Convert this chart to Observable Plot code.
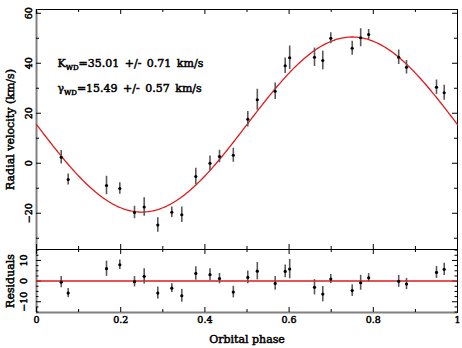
<!DOCTYPE html>
<html>
<head>
<meta charset="utf-8">
<script src="https://cdn.jsdelivr.net/npm/d3@7"></script>
<script src="https://cdn.jsdelivr.net/npm/@observablehq/plot@0.6"></script>
<style>
  html, body { margin: 0; padding: 0; background: #fff; }
  #chart { position: relative; width: 462px; height: 348px; }
  #chart svg { position: absolute; left: 0; display: block; overflow: visible; }
  #chart svg text { stroke: #000; stroke-width: 0.5px; }
  #chart svg text.fit { word-spacing: 2px; }
</style>
</head>
<body>
<div id="chart"></div>
<script>
// White-dwarf radial velocities folded on the orbital phase
const phase = [0.0587, 0.0753, 0.1663, 0.1979, 0.2328, 0.2558, 0.2881, 0.3214, 0.3451, 0.3784,
               0.4121, 0.4347, 0.4675, 0.5019, 0.5245, 0.5670, 0.5907, 0.6014, 0.6603, 0.6800,
               0.6990, 0.7499, 0.7700, 0.7890, 0.8603, 0.8789, 0.9501, 0.9684];
const velocity = [2.4, -6.5, -8.9, -10.1, -19.7, -17.5, -24.7, -19.6, -20.6, -5.3,
                  0.0, 2.7, 3.2, 17.6, 25.4, 28.8, 39.0, 42.2, 42.4, 41.1,
                  50.0, 46.0, 50.2, 51.5, 42.4, 38.4, 30.4, 28.2];
const velocityErr = [2.7, 2.2, 3.7, 2.3, 2.5, 3.7, 2.9, 2.1, 3.1, 3.3,
                     2.9, 2.5, 2.8, 3.1, 4.2, 3.3, 3.1, 4.7, 3.7, 3.7,
                     2.2, 2.8, 3.6, 2.0, 2.9, 2.7, 2.9, 3.0];
const residual = [-0.5, -5.8, 6.0, 7.9, -0.3, 2.3, -5.8, -3.4, -7.1, 3.7,
                  3.1, 1.2, -5.3, 1.8, 4.8, -1.1, 4.7, 5.8, -3.0, -6.3,
                  1.0, -4.6, -0.8, 1.6, -0.1, -1.4, 4.2, 5.7];

// Fitted sine: v = gamma - K sin(2 pi phase)
const K = 35.01, K_err = 0.71;
const gamma = 15.49, gamma_err = 0.57;
const fitLabels = [
  {symbol: "K", sub: "WD", value: K, err: K_err},
  {symbol: "γ", sub: "WD", value: gamma, err: gamma_err}
];

// Tick positions and labels
const phaseMajor = [0, 0.2, 0.4, 0.6, 0.8, 1];
const phaseMinor = [0.1, 0.3, 0.5, 0.7, 0.9];
const phaseTickLabels = ["0", "0.2", "0.4", "0.6", "0.8", "1"];
const velMajor = [-20, 0, 20, 40, 60];
const velMinor = [-30, -10, 10, 30, 50];
const resMajor = [-10, 0, 10];
const resMinor = [-15, -12.5, -7.5, -5, -2.5, 2.5, 5, 7.5, 12.5, 15];

const data = phase.map((p, i) => ({phase: p, v: velocity[i], e: velocityErr[i], r: residual[i]}));
const model = d3.range(0, 1.0001, 0.004).map(p => ({phase: p, v: gamma - K * Math.sin(2 * Math.PI * p)}));

const fmt = d => d < 0 ? "\u2212" + (-d) : String(d);
const style = {fontFamily: "'DejaVu Serif', serif", fontSize: "11px", background: "transparent", overflow: "visible"};
const RED = "#e2191c";
const BAR = "#5a5a5a";
const EDGE = "#808080";
const TICKFONT = 9.5;

const W = 462, mL = 36, mR = 5;
const innerW = W - mL - mR;

// ---------- upper panel: radial velocities ----------
const topH = 249, topMT = 9;
const topInner = topH - topMT;
const upper = Plot.plot({
  width: W, height: topH,
  marginLeft: mL, marginRight: mR, marginTop: topMT, marginBottom: 0,
  x: {domain: [0, 1], axis: null},
  y: {domain: [-34.5, 61.5], axis: null},
  style,
  marks: [
    Plot.frame({stroke: "#000", strokeWidth: 1}),
    Plot.ruleX([0], {stroke: EDGE, strokeWidth: 2}),
    // inward ticks: top and bottom
    Plot.ruleX(phaseMajor, {insetBottom: topInner - 5, stroke: "#000"}),
    Plot.ruleX(phaseMinor, {insetBottom: topInner - 3, stroke: "#000"}),
    Plot.ruleX(phaseMajor, {insetTop: topInner - 5, stroke: "#000"}),
    Plot.ruleX(phaseMinor, {insetTop: topInner - 3, stroke: "#000"}),
    // inward ticks: left and right
    Plot.ruleY(velMajor, {insetRight: innerW - 5, stroke: "#000"}),
    Plot.ruleY(velMinor, {insetRight: innerW - 3, stroke: "#000"}),
    Plot.ruleY(velMajor, {insetLeft: innerW - 5, stroke: "#000"}),
    Plot.ruleY(velMinor, {insetLeft: innerW - 3, stroke: "#000"}),
    Plot.text(velMajor, {y: d => d, text: fmt, frameAnchor: "left", textAnchor: "middle", dx: -8, rotate: -90, fontSize: TICKFONT, fill: "#000"}),
    Plot.text(["Radial velocity (km/s)"], {text: d => d, frameAnchor: "left", textAnchor: "middle", dx: -26.5, rotate: -90, fill: "#000"}),
    // model curve
    Plot.line(model, {x: "phase", y: "v", stroke: RED, strokeWidth: 1.3}),
    // measurements
    Plot.ruleX(data, {x: "phase", y1: d => d.v - d.e, y2: d => d.v + d.e, stroke: BAR, strokeWidth: 1.6}),
    Plot.dot(data, {x: "phase", y: "v", r: 1.6, fill: "#000", stroke: null}),
    // fit parameters
    Plot.text(fitLabels, {
      text: d => `${d.symbol}|${d.sub}|=${d.value.toFixed(2)} +/- ${d.err.toFixed(2)} km/s`,
      frameAnchor: "top-left", textAnchor: "start", dx: 21, fill: "#000"
    })
  ]
});

// Stack the two parameter lines and set the subscripts
{
  const texts = d3.select(upper).selectAll("text").filter(function () { return this.textContent.includes("|"); });
  texts.each(function (d, i) {
    const t = d3.select(this);
    const [sym, sub, rest] = this.textContent.split("|");
    const tr = t.attr("transform") || "";
    t.attr("transform", `${tr} translate(0,${50 + i * 25})`).classed("fit", true);
    t.text(null);
    t.append("tspan").text(sym);
    t.append("tspan").attr("font-size", "7px").attr("dy", "2.5").text(sub);
    t.append("tspan").attr("dy", "-2.5").text(rest);
  });
}

// ---------- lower panel: residuals ----------
const botH = 99, botMB = 36;
const botInner = botH - botMB;
const lower = Plot.plot({
  width: W, height: botH,
  marginLeft: mL, marginRight: mR, marginTop: 0, marginBottom: botMB,
  x: {domain: [0, 1], axis: null},
  y: {domain: [-15.2, 15.3], axis: null},
  style,
  marks: [
    Plot.frame({stroke: "#000", strokeWidth: 1}),
    Plot.ruleX([0], {stroke: EDGE, strokeWidth: 2}),
    Plot.ruleY([-15.2], {stroke: EDGE, strokeWidth: 2}),
    Plot.ruleX(phaseMajor, {insetBottom: botInner - 5, stroke: "#000"}),
    Plot.ruleX(phaseMinor, {insetBottom: botInner - 3, stroke: "#000"}),
    Plot.ruleX(phaseMajor, {insetTop: botInner - 5, stroke: "#000"}),
    Plot.ruleX(phaseMinor, {insetTop: botInner - 3, stroke: "#000"}),
    Plot.ruleY(resMajor, {insetRight: innerW - 5, stroke: "#000"}),
    Plot.ruleY(resMinor, {insetRight: innerW - 2.5, stroke: "#000"}),
    Plot.ruleY(resMajor, {insetLeft: innerW - 5, stroke: "#000"}),
    Plot.ruleY(resMinor, {insetLeft: innerW - 2.5, stroke: "#000"}),
    Plot.text(resMajor, {y: d => d, text: fmt, frameAnchor: "left", textAnchor: "middle", dx: -13, rotate: -90, fontSize: TICKFONT, fill: "#000"}),
    Plot.text(["Residuals"], {text: d => d, frameAnchor: "left", textAnchor: "middle", dx: -26.5, rotate: -90, fill: "#000"}),
    Plot.text(phaseMajor, {x: d => d, text: (d, i) => phaseTickLabels[i], frameAnchor: "bottom", textAnchor: "middle", dy: 10.5, fontSize: TICKFONT, fill: "#000"}),
    Plot.text(["Orbital phase"], {text: d => d, frameAnchor: "bottom", textAnchor: "middle", dy: 30, fill: "#000"}),
    Plot.ruleY([0], {stroke: RED, strokeWidth: 1.5}),
    Plot.ruleX(data, {x: "phase", y1: d => d.r - d.e, y2: d => d.r + d.e, stroke: BAR, strokeWidth: 1.6}),
    Plot.dot(data, {x: "phase", y: "r", r: 1.6, fill: "#000", stroke: null})
  ]
});

const chart = document.getElementById("chart");
upper.style.top = "0px";
lower.style.top = topH + "px";
chart.append(upper, lower);
</script>
</body>
</html>
